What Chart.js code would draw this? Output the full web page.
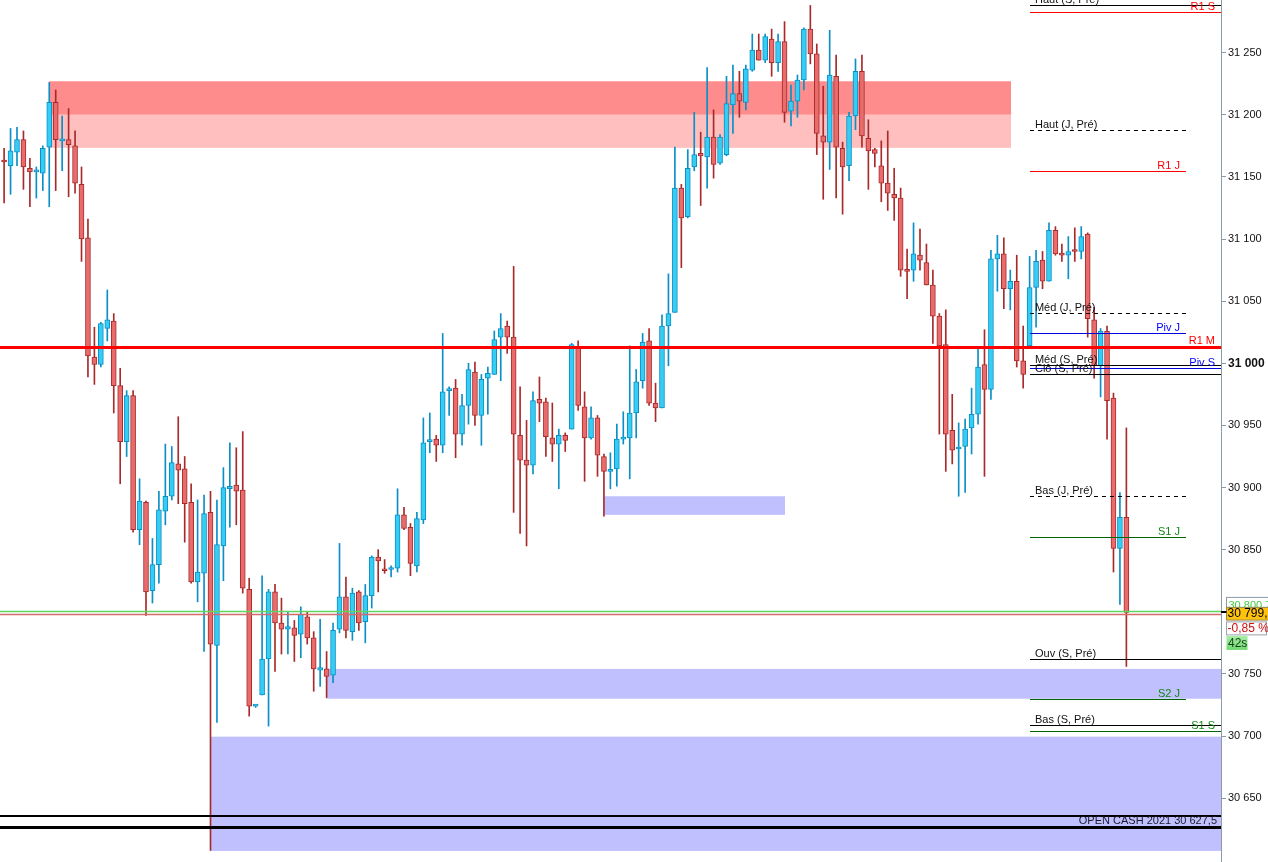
<!DOCTYPE html>
<html><head><meta charset="utf-8">
<script src="https://cdn.jsdelivr.net/npm/chart.js@4.4.1/dist/chart.umd.min.js"></script>
<style>html,body{margin:0;padding:0;background:#fff;overflow:hidden}#wrap{width:1268px;height:862px}</style>
</head><body><div id="wrap"><canvas id="c" width="1268" height="862"></canvas></div>
<script>
// ---------------- DATA ----------------
const opens = [
31163,31159,31170,31180,31157,31154,31153,31174,31210,31179,
31180,31175,31144,31101,31005,30999,31028,31034,30982,30937,
30974,30866,30888,30817,30838,30881,30893,30919,30915,30888,
30824,30831,30880,30773,30853,30899,30902,30898,30818,30724,
30733,30762,30816,30791,30786,30787,30782,30796,30779,30753,
30754,30749,30786,30812,30784,30816,30792,30813,30844,30834,
30834,30835,30878,30868,30837,30874,30937,30939,30934,30978,
30980,30943,30966,30993,30958,30988,30991,31021,31030,31021,
30942,30922,30918,30971,30969,30940,30935,30942,30947,31013,
30965,30940,30956,30925,30913,30915,30939,30940,30960,30986,
31018,30968,30964,31030,31041,31141,31118,31158,31169,31166,
31182,31161,31168,31208,31217,31210,31236,31252,31244,31261,
31242,31259,31203,31211,31228,31269,31249,31183,31178,31231,
31173,31159,31199,31235,31181,31172,31159,31145,31136,31133,
31075,31075,31087,31081,31063,31038,31015,30946,30931,30933,
30948,30959,30999,30979,31084,31088,31060,31066,31002,31014,
31061,31083,31066,31107,31088,31087,31091,31090,31104,31035,
30998,31026,30972,30851,30876];
const highs = [
31173,31189,31190,31187,31165,31158,31175,31226,31220,31199,
31205,31187,31158,31116,31029,31033,31059,31040,30996,30978,
30978,30907,30889,30859,30897,30935,30933,30957,30925,30903,
30890,30894,30897,30890,30916,30936,30932,30945,30827,30725,
30829,30818,30822,30811,30800,30793,30804,30800,30784,30794,
30768,30791,30855,30828,30819,30817,30822,30845,30850,30842,
30837,30899,30884,30871,30880,30956,30960,30942,31024,30981,
30987,30975,31000,31001,30991,30997,31026,31040,31034,31078,
30981,30954,30977,30989,30972,30968,30947,30944,31016,31018,
30977,30965,30958,30927,30928,30951,30961,31014,30995,31024,
31028,30984,31039,31072,31174,31144,31172,31202,31186,31238,
31204,31184,31231,31240,31235,31240,31265,31265,31265,31269,
31265,31275,31224,31232,31270,31288,31257,31223,31268,31248,
31178,31202,31245,31248,31196,31173,31179,31187,31157,31141,
31092,31113,31108,31096,31075,31040,31043,30975,30952,30955,
30980,31012,31027,31091,31103,31101,31075,31087,31030,31086,
31091,31090,31113,31110,31096,31102,31109,31110,31105,31045,
31028,31030,30976,30896,30948];
const lows = [
31129,31136,31159,31140,31126,31133,31139,31126,31139,31155,
31134,31137,31082,30989,30983,30997,31018,30960,30903,30925,
30864,30854,30797,30807,30823,30870,30890,30887,30856,30823,
30808,30768,30608,30711,30825,30868,30870,30815,30716,30723,
30733,30708,30752,30766,30766,30760,30763,30774,30736,30740,
30731,30743,30783,30779,30777,30785,30775,30803,30816,30831,
30828,30832,30866,30829,30832,30871,30928,30921,30928,30958,
30924,30934,30951,30950,30934,30959,30991,30986,31008,30880,
30863,30853,30911,30953,30925,30921,30899,30929,30947,30962,
30905,30939,30909,30877,30899,30901,30935,30907,30940,30980,
30966,30953,30964,30998,31041,31077,31117,31155,31127,31141,
31149,31160,31167,31185,31198,31204,31235,31244,31242,31231,
31235,31194,31191,31198,31220,31241,31168,31132,31156,31133,
31120,31147,31188,31174,31140,31158,31130,31123,31115,31070,
31052,31066,31075,31063,31016,30943,30913,30919,30893,30896,
30927,30951,30909,30971,31058,31044,31043,30997,30980,31014,
31029,31060,31066,31087,31082,31068,31082,31084,31021,30988,
30973,30939,30832,30806,30756];
const closes = [
31162,31171,31180,31158,31154,31155,31173,31210,31180,31180,
31176,31145,31100,31006,30999,31032,31035,30982,30937,30974,
30866,30889,30816,30838,30882,30893,30920,30914,30887,30824,
30832,30879,30774,30854,30900,30901,30897,30819,30724,30724.5,
30762,30816,30791,30786,30788,30781,30798,30779,30754,30755,
30748,30785,30812,30785,30815,30791,30813,30844,30841,30833,
30835,30878,30867,30839,30875,30936,30938,30934,30977,30979,
30943,30966,30995,30958,30987,30992,31019,31028,31021,30943,
30922,30918,30970,30968,30941,30935,30942,30938,31015,30966,
30940,30956,30926,30913,30914.5,30939,30940,30960,30985,31017,
30968,30964,31030,31040,31141,31117,31157,31168,31167,31182,
31160,31182,31209,31217,31211,31237,31252,31244,31263,31242,
31259,31202,31211,31228,31269,31249,31185,31178,31232,31174,
31158,31199,31235,31183,31171,31169,31145,31137,31133,31075,
31074,31088,31083,31063,31038,31014,30943,30930,30932,30947,
30959,30997,30979,31084,31088,31060,31066,31002,30991,31061,
31082,31066,31107,31088,31087,31090,31090,31102,31036,30998,
31026,30970,30851,30876,30799.5];

const yTickValues = [30650,30700,30750,30800,30850,30900,30950,31000,31050,31100,31150,31200,31250];

// zones (price bands), start/end given as candle index (null = right edge)
const zoneLows   = [31200, 31173.4, 30878, 30730, 30607.5];
const zoneHighs  = [31227, 31200, 30893, 30754, 30699.5];
const zoneStarts = [6.96, 6.96, 93.05, 49.91, 31.92];
const zoneEnds   = [156.11, 156.11, 121.07, null, null];
const zoneKinds  = ['resist', 'resistLight', 'support', 'support', 'support'];

// horizontal levels
const levelNames  = ['Haut (S, Pré)','R1 S','Haut (J, Pré)','R1 J','Méd (J, Pré)','Piv J','R1 M','Méd (S, Pré)','Piv S','Clô (S, Pré)','Bas (J, Pré)','S1 J','Ouv (S, Pré)','S2 J','Bas (S, Pré)','S1 S','','OPEN CASH 2021 30 627,5'];
const levelPrices = [31288,31282.4,31187.7,31154.5,31040.2,31024.4,31013.4,30998.4,30996.2,30991.4,30893.2,30860,30762.2,30729.7,30708.8,30704,30636,30626.5];
const levelSpans  = ['week','week','day','day','day','day','full','week','week','week','day','day','week','day','week','week','full','full'];

const lastPrice = 30799.5;
const askPrice = 30800.7;
const bidLine = 30798;
const lastLabel = '30 799,5';
const askLabel = '30 800,7';
const changeLabel = '-0,85 %';
const timerLabel = '42s';

// ---------------- STYLES ----------------
const UP_FILL = '#35cdf3', UP_LINE = '#0a8fc6';
const DN_FILL = '#e86c6c', DN_LINE = '#a82a2a';
const FONT = '"Liberation Sans", Arial, sans-serif';
const spanRanges = { day: [159.05, 183.24], week: [159.05, null], full: [null, null] };
const zoneStyle = { resist: '#ff8c8c', resistLight: '#ffbfbf', support: '#c0c0ff' };
const styleFor = (name, span) => {
  if (name === 'R1 M') return {color:'#ff0000', width:3, dash:[], side:'right', tcolor:'#ff0000'};
  if (name.startsWith('R1')) return {color:'#ff0000', width:1, dash:[], side:'right', tcolor:'#ff0000'};
  if (name.startsWith('Piv')) return {color:'#0000dd', width:1, dash:[], side:'right', tcolor:'#0000ff'};
  if (name.startsWith('S1') || name.startsWith('S2')) return {color:'#006400', width:1, dash:[], side:'right', tcolor:'#118811'};
  if (name.startsWith('OPEN')) return {color:'#000000', width:3, dash:[], side:'right', tcolor:'#1a1a2a', endPad:4};
  if (name === '') return {color:'#000000', width:2, dash:[], side:'none'};
  if (span === 'day') return {color:'#000000', width:1, dash:[4,4], side:'left', tcolor:'#111'};
  return {color:'#000000', width:1, dash:[], side:'left', tcolor:'#111'};
};

const fmtTick = v => { const s = String(Math.round(v)); return s.slice(0, -3) + ' ' + s.slice(-3); };

const up = closes.map((c, i) => c >= opens[i]);
const bodyData = opens.map((o, i) => ({x: i, y: [o, closes[i]]}));
const wickData = lows.map((l, i) => ({x: i, y: [l, highs[i]]}));

const overlay = {
  id: 'overlay',
  beforeDatasetsDraw(chart) {
    const {ctx, chartArea: a, scales: {x, y}} = chart;
    ctx.save();
    ctx.beginPath(); ctx.rect(a.left, a.top, a.width, a.height); ctx.clip();
    zoneLows.forEach((lo, k) => {
      const x0 = x.getPixelForValue(zoneStarts[k]);
      const x1 = zoneEnds[k] === null ? a.right : x.getPixelForValue(zoneEnds[k]);
      const y0 = y.getPixelForValue(zoneHighs[k]), y1 = y.getPixelForValue(lo);
      ctx.fillStyle = zoneStyle[zoneKinds[k]];
      ctx.fillRect(x0, y0, x1 - x0, y1 - y0);
    });
    ctx.restore();
  },
  afterDatasetsDraw(chart) {
    const {ctx, chartArea: a, scales: {x, y}} = chart;
    ctx.save();
    ctx.beginPath(); ctx.rect(a.left, a.top, a.width, a.height); ctx.clip();
    const drawH = (p, color, w) => {
      const py = Math.round(y.getPixelForValue(p)) + 0.5;
      ctx.strokeStyle = color; ctx.lineWidth = w; ctx.setLineDash([]);
      ctx.beginPath(); ctx.moveTo(a.left, py); ctx.lineTo(a.right, py); ctx.stroke();
    };
    drawH(askPrice, '#5fd65f', 1.3);
    drawH(bidLine, '#d46a6a', 1.3);
    ctx.font = '11px ' + FONT;
    ctx.textBaseline = 'alphabetic';
    levelNames.forEach((name, k) => {
      const span = levelSpans[k];
      const st = styleFor(name, span);
      const r = spanRanges[span];
      const x0 = r[0] === null ? a.left : x.getPixelForValue(r[0]);
      const x1 = r[1] === null ? a.right : x.getPixelForValue(r[1]);
      let py = y.getPixelForValue(levelPrices[k]);
      py = st.width % 2 === 1 ? Math.round(py) + 0.5 : Math.round(py);
      ctx.strokeStyle = st.color; ctx.lineWidth = st.width; ctx.setLineDash(st.dash);
      ctx.beginPath(); ctx.moveTo(x0, py); ctx.lineTo(x1, py); ctx.stroke();
      ctx.setLineDash([]);
      if (st.side === 'none') return;
      ctx.fillStyle = st.tcolor;
      const ty = py - st.width / 2 - 2.5;
      if (st.side === 'left') { ctx.textAlign = 'left'; ctx.fillText(name, x0 + 5, ty); }
      else { ctx.textAlign = 'right'; ctx.fillText(name, x1 - (st.endPad || 6), ty); }
    });
    ctx.restore();
  },
  afterDraw(chart) {
    const {ctx, chartArea: a, scales: {y}} = chart;
    const W = chart.width;
    const yL = y.getPixelForValue(lastPrice);
    const bx = a.right + 5.5;
    ctx.save();
    ctx.font = '11px ' + FONT;
    ctx.textAlign = 'left'; ctx.textBaseline = 'middle';
    // ask box (partially hidden)
    ctx.fillStyle = '#ffffff'; ctx.fillRect(bx, yL - 15, W - bx, 10);
    ctx.strokeStyle = '#8a9aa6'; ctx.lineWidth = 1; ctx.strokeRect(bx, yL - 15, W - bx + 2, 10);
    ctx.fillStyle = '#44cc44'; ctx.fillText(askLabel, bx + 2, yL - 6);
    // last price box
    ctx.fillStyle = '#ffc20e'; ctx.fillRect(bx, yL - 5, W - bx, 12.7);
    ctx.strokeStyle = '#9a8a50'; ctx.strokeRect(bx, yL - 5, W - bx + 2, 12.7);
    ctx.font = '12px ' + FONT;
    ctx.fillStyle = '#000'; ctx.fillText(lastLabel, bx + 1, yL + 1.5);
    ctx.font = '11px ' + FONT;
    // marker
    ctx.strokeStyle = '#000'; ctx.lineWidth = 2;
    ctx.beginPath(); ctx.moveTo(a.right, Math.round(yL)); ctx.lineTo(bx, Math.round(yL)); ctx.stroke();
    // change box
    ctx.lineWidth = 1;
    ctx.fillStyle = '#fbfbfb'; ctx.fillRect(bx, yL + 9.5, W - bx - 1.5, 13);
    ctx.strokeStyle = '#9aa4ac'; ctx.strokeRect(bx, yL + 9.5, W - bx - 1.5, 13);
    ctx.font = '12px ' + FONT;
    ctx.fillStyle = '#cc1111'; ctx.fillText(changeLabel, bx + 1, yL + 16.5);
    // timer box
    const g = ctx.createLinearGradient(0, yL + 23.5, 0, yL + 37.5);
    g.addColorStop(0, '#a6f0a6'); g.addColorStop(1, '#6fd86f');
    ctx.fillStyle = g; ctx.fillRect(bx, yL + 23.5, 21, 14);
    ctx.fillStyle = '#173d17'; ctx.fillText(timerLabel, bx + 1.5, yL + 31);
    ctx.restore();
  }
};

new Chart(document.getElementById('c'), {
  type: 'bar',
  data: {
    datasets: [
      { label: 'wick', data: wickData, grouped: false, order: 2, barThickness: 1,
        backgroundColor: up.map(u => u ? UP_LINE : DN_LINE), borderWidth: 0 },
      { label: 'body', data: bodyData, grouped: false, order: 1, barThickness: 5, minBarLength: 2,
        backgroundColor: up.map(u => u ? UP_FILL : DN_FILL),
        borderColor: up.map(u => u ? UP_LINE : DN_LINE), borderWidth: 1, borderSkipped: false }
    ]
  },
  options: {
    responsive: false, animation: false, events: [],
    layout: { padding: 0 },
    plugins: { legend: { display: false }, tooltip: { enabled: false } },
    scales: {
      x: { type: 'linear', display: false, offset: false, min: -0.636, max: 188.67 },
      y: {
        position: 'right', min: 30598.6, max: 31292.4,
        afterFit(s) { s.width = 47; s.paddingTop = 0; s.paddingBottom = 0; },
        afterBuildTicks(s) { s.ticks = yTickValues.map(v => ({value: v})); },
        grid: { display: true, drawOnChartArea: false, drawTicks: true, tickLength: 5, color: '#8a9aa6' },
        border: { display: true, color: '#8a9aa6', width: 1 },
        ticks: {
          padding: 2, color: '#111',
          font: c => (c.tick && c.tick.value === 31000) ? {family: FONT, size: 12, weight: 'bold'} : {family: FONT, size: 11},
          callback: v => fmtTick(v)
        }
      }
    }
  },
  plugins: [overlay]
});
</script></body></html>
